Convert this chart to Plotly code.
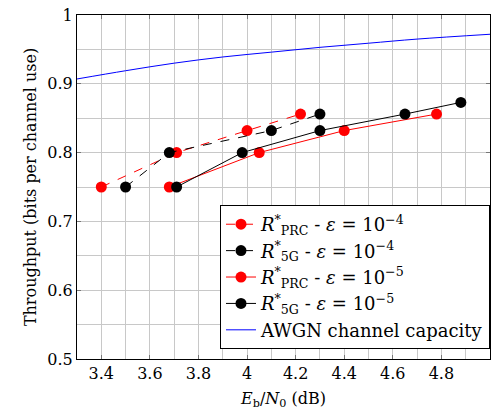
import plotly.graph_objects as go

# Data
prc4_x = [3.40, 3.71, 4.00, 4.22]
prc4_y = [0.750, 0.800, 0.832, 0.856]
g5_4_x = [3.50, 3.68, 4.10, 4.30]
g5_4_y = [0.750, 0.800, 0.832, 0.856]
prc5_x = [3.68, 4.05, 4.40, 4.78]
prc5_y = [0.750, 0.800, 0.832, 0.856]
g5_5_x = [3.71, 3.98, 4.30, 4.65, 4.88]
g5_5_y = [0.750, 0.800, 0.832, 0.856, 0.873]
awgn_x = [3.3, 3.5, 3.7, 3.9, 4.1, 4.3, 4.5, 4.7, 5.0]
awgn_y = [0.907, 0.919, 0.930, 0.939, 0.946, 0.953, 0.959, 0.965, 0.972]

names = [
    "<i>R</i><sup>*</sup><sub>PRC</sub> - <i>ε</i> = 10<sup>−4</sup>",
    "<i>R</i><sup>*</sup><sub>5G</sub> - <i>ε</i> = 10<sup>−4</sup>",
    "<i>R</i><sup>*</sup><sub>PRC</sub> - <i>ε</i> = 10<sup>−5</sup>",
    "<i>R</i><sup>*</sup><sub>5G</sub> - <i>ε</i> = 10<sup>−5</sup>",
    "AWGN channel capacity",
]

FONT = "DejaVu Serif"
fig = go.Figure()
series = [
    (prc4_x, prc4_y, "red", "dash"),
    (g5_4_x, g5_4_y, "black", "dash"),
    (prc5_x, prc5_y, "red", "solid"),
    (g5_5_x, g5_5_y, "black", "solid"),
]
for (x, y, c, d), n in zip(series, names[:4]):
    fig.add_trace(go.Scatter(x=x, y=y, mode="lines+markers", name=n,
                             line=dict(color=c, width=1, dash=d),
                             marker=dict(color=c, size=11)))
fig.add_trace(go.Scatter(x=awgn_x, y=awgn_y, mode="lines", name=names[4],
                         line=dict(color="blue", width=1, shape="spline")))

axis_common = dict(showline=True, linecolor="black", linewidth=1, mirror="ticks",
                   ticks="inside", ticklen=4, tickcolor="#777",
                   showgrid=True, gridcolor="#c8c8c8", gridwidth=1, zeroline=False,
                   tickfont=dict(size=16, color="black"))
fig.update_xaxes(range=[3.3, 5.0], tick0=3.4, dtick=0.2,
                 minor=dict(dtick=0.1, tick0=3.3, showgrid=True, gridcolor="#c8c8c8", ticks=""),
                 title=dict(text="<i>E</i><sub>b</sub>/<i>N</i><sub>0</sub> (dB)",
                            font=dict(size=16, color="black"), standoff=10),
                 **axis_common)
fig.update_yaxes(range=[0.5, 1.0], tick0=0.5, dtick=0.1,
                 minor=dict(dtick=0.05, tick0=0.5, showgrid=True, gridcolor="#c8c8c8", ticks=""),
                 title=dict(text="Throughput (bits per channel use)",
                            font=dict(size=16, color="black"), standoff=6),
                 **axis_common)
fig.update_layout(
    width=495, height=417,
    font=dict(family=FONT, color="black"),
    margin=dict(l=77, r=5, t=15, b=58),
    plot_bgcolor="white", paper_bgcolor="white",
    legend=dict(x=1.0, xanchor="right", y=0.029, yanchor="bottom",
                bgcolor="white", bordercolor="black", borderwidth=1,
                font=dict(size=18, color="black"),
                itemwidth=30, tracegroupgap=0),
)
fig.write_html("out.html")
